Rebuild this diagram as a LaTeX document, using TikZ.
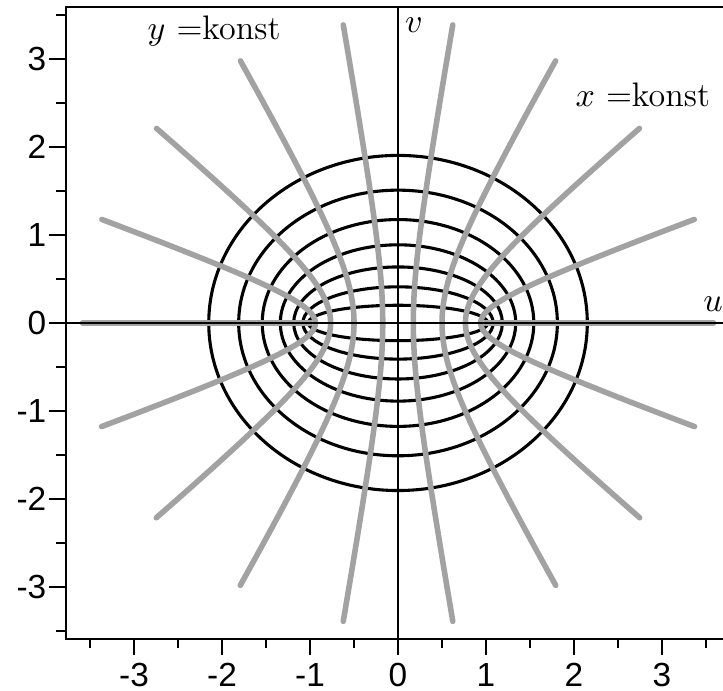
\documentclass[tikz,border=0pt]{standalone}
\usepackage{fontspec}
\newfontfamily\ticksf{Liberation Sans}
\definecolor{hypgray}{RGB}{162,162,162}
\tikzset{
  ell/.style={black, line width=1pt},
  hyp/.style={hypgray, line width=1.8pt, line cap=round},
  axisline/.style={black, line width=0.6pt},
  frameline/.style={black, line width=0.7pt},
  ticklab/.style={inner sep=0pt, font=\ticksf\fontsize{10.8}{12}\selectfont},
  txtlab/.style={inner sep=0pt, font=\fontsize{11}{13}\selectfont},
}
\begin{document}
\begin{tikzpicture}[x=1cm,y=1cm]
\clip (-4.523,-4.182) rectangle (3.693,3.670);
\useasboundingbox (-4.523,-4.182) rectangle (3.693,3.670);
% ellipses x = const
\foreach \a in {0.2,0.4,0.6,0.8,1.0,1.2,1.4}{
  \pgfmathsetmacro\rx{cosh(\a)}
  \pgfmathsetmacro\ry{sinh(\a)}
  \draw[ell] (0,0) ellipse [x radius=\rx, y radius=\ry];
}
% hyperbolas y = const
\foreach \k in {1,...,8}{
  \draw[hyp] plot[domain=-1.95:1.95, samples=90, smooth]
    ({cosh(\x)*cos(20*\k)},{sinh(\x)*sin(20*\k)});
}
\pgfmathsetmacro\hx{cosh(1.95)}
\coordinate (fr) at (1,0);
\coordinate (fl) at (-1,0);
\coordinate (hr) at (\hx,0);
\coordinate (hl) at (-\hx,0);
\draw[hyp] (fr) -- (hr);
\draw[hyp] (fl) -- (hl);
% frame
\coordinate (tr) at (3.8,3.591);
\coordinate (tl) at (-3.773,3.591);
\coordinate (bl) at (-3.773,-3.591);
\coordinate (br) at (3.8,-3.591);
\draw[frameline] (tr) -- (tl) -- (bl) -- (br);
% axes
\coordinate (ax1) at (-3.773,0);
\coordinate (ax2) at (3.8,0);
\coordinate (ay1) at (0,3.591);
\coordinate (ay2) at (0,-3.591);
\draw[axisline] (ax1) -- (ax2);
\draw[axisline] (ay1) -- (ay2);
% ticks
\foreach \t in {-3.5,-2.5,-1.5,-0.5,0.5,1.5,2.5,3.5}{
  \draw[frameline] (-3.773,\t) -- (-3.887,\t);
  \draw[frameline] (\t,-3.591) -- (\t,-3.693);
}
\foreach \t/\lab in {-3/-3,-2/-2,-1/-1,0/0,1/1,2/2,3/3}{
  \draw[frameline] (-3.773,\t) -- (-3.966,\t);
  \draw[frameline] (\t,-3.591) -- (\t,-3.775);
  \node[ticklab, anchor=east] (yl\t) at (-3.99,\t) {\lab};
  \node[ticklab, anchor=north] (xl\t) at (\t,-3.864) {\lab};
}
% labels
\node[txtlab, anchor=base west] (ylab) at (-2.852,3.216) {$y$ =konst};
\node[txtlab, anchor=base west] (xlab) at (2.011,2.455) {$x$ =konst};
\node[txtlab] (vlab) at (0.18,3.386) {$v$};
\node[txtlab] (ulab) at (3.58,0.21) {$u$};
\end{tikzpicture}
\end{document}
